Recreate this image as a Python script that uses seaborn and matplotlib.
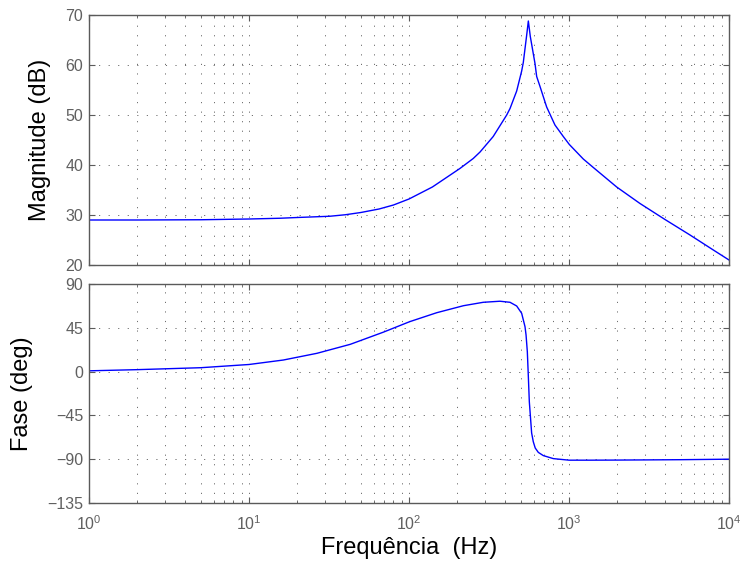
import matplotlib
matplotlib.use("Agg")
import matplotlib.pyplot as plt
import matplotlib.ticker as mticker
import seaborn as sns
import pandas as pd

# ---- data ----
freq_mag = [1, 2, 5, 10, 15.6, 20, 32, 40, 50, 65, 80, 100, 140, 208, 252,
            278, 336, 408, 428, 471, 506, 518, 544, 557, 573, 613, 628, 659,
            725, 817, 921, 1005, 1228, 1419, 1986, 2778, 3981, 5706, 7980,
            10000]
mag_db = [29.0, 29.0, 29.05, 29.2, 29.35, 29.5, 29.75, 30.05, 30.5, 31.2,
          32.0, 33.2, 35.6, 39.3, 41.3, 42.6, 45.7, 50.0, 51.3, 54.8, 58.8,
          60.5, 66.0, 68.8, 65.7, 60.3, 57.7, 55.7, 51.6, 48.0, 45.7, 44.1,
          41.2, 39.5, 35.6, 32.3, 29.1, 26.0, 23.0, 21.0]

freq_ph = [1, 2, 5, 10, 16.4, 26.6, 42.9, 69.1, 101, 149, 219, 291, 370,
           428, 471, 506, 531, 539, 549, 557, 565, 584, 598, 615, 643, 691,
           798, 1000, 1358, 2000, 5000, 10000]
phase_deg = [0.8, 2.0, 4.0, 7.3, 11.9, 18.8, 28.0, 40.5, 51.3, 60.5, 67.7,
             71.2, 72.3, 71.2, 67.4, 59.9, 46.1, 37.6, 20.4, -5.0, -31.0,
             -63.0, -72.0, -78.5, -83.0, -86.3, -89.4, -91.0, -91.0, -90.9,
             -90.5, -90.0]

mag_ticks = [20, 30, 40, 50, 60, 70]
ph_ticks = [-135, -90, -45, 0, 45, 90]

df_mag = pd.DataFrame({"f": freq_mag, "v": mag_db})
df_ph = pd.DataFrame({"f": freq_ph, "v": phase_deg})

sns.set_theme(style="white")
plt.rcParams["font.family"] = ["Liberation Sans", "DejaVu Sans"]
plt.rcParams["mathtext.default"] = "regular"

W, H = 741, 568
fig = plt.figure(figsize=(W / 100, H / 100), dpi=100)
ax1 = fig.add_axes([89 / W, 1 - 265 / H, 640 / W, 250 / H])
ax2 = fig.add_axes([89 / W, 1 - 503 / H, 640 / W, 219 / H])

sns.lineplot(data=df_mag, x="f", y="v", ax=ax1, color="#0000ff", lw=1.0,
             estimator=None, sort=False)
sns.lineplot(data=df_ph, x="f", y="v", ax=ax2, color="#0000ff", lw=1.0,
             estimator=None, sort=False)

spine_c = "#5a5a5a"
tick_c = "#606060"
for ax, yt in ((ax1, mag_ticks), (ax2, ph_ticks)):
    ax.set_xscale("log")
    ax.set_xlim(1, 1e4)
    ax.set_ylim(yt[0], yt[-1])
    ax.set_yticks(yt)
    ax.xaxis.set_major_locator(mticker.LogLocator(base=10, numticks=10))
    ax.xaxis.set_minor_locator(mticker.LogLocator(base=10, subs=range(2, 10), numticks=10))
    ax.xaxis.set_minor_formatter(mticker.NullFormatter())
    for s in ax.spines.values():
        s.set_color(spine_c)
        s.set_linewidth(1.0)
        s.set_visible(True)
    ax.tick_params(axis="both", which="both", direction="in", top=True,
                   right=True, bottom=True, left=True, colors=spine_c,
                   labelcolor=tick_c, labelsize=11.5)
    ax.tick_params(axis="both", which="major", length=4, width=0.8)
    ax.tick_params(axis="x", which="minor", length=2.5, width=0.6)
    ax.tick_params(axis="y", which="major", pad=4.3)
    ax.tick_params(axis="x", which="major", pad=8)
    ax.grid(True, which="major", axis="both", color="#444444", lw=0.55,
            linestyle=(0, (1.5, 11)))
    ax.grid(True, which="minor", axis="x", color="#444444", lw=0.55,
            linestyle=(0, (1.5, 11)))
    ax.set_axisbelow(True)

ax1.tick_params(axis="x", which="both", labelbottom=False)
ax1.set_xlabel("")
ax1.set_ylabel("Magnitude (dB)", fontsize=17, labelpad=10, color="black")
ax2.set_ylabel("Fase (deg)", fontsize=17, labelpad=10, color="black")
ax2.set_xlabel("Frequência  (Hz)", fontsize=17, labelpad=3, color="black")

fig.savefig("out.png", dpi=100, facecolor="white")
